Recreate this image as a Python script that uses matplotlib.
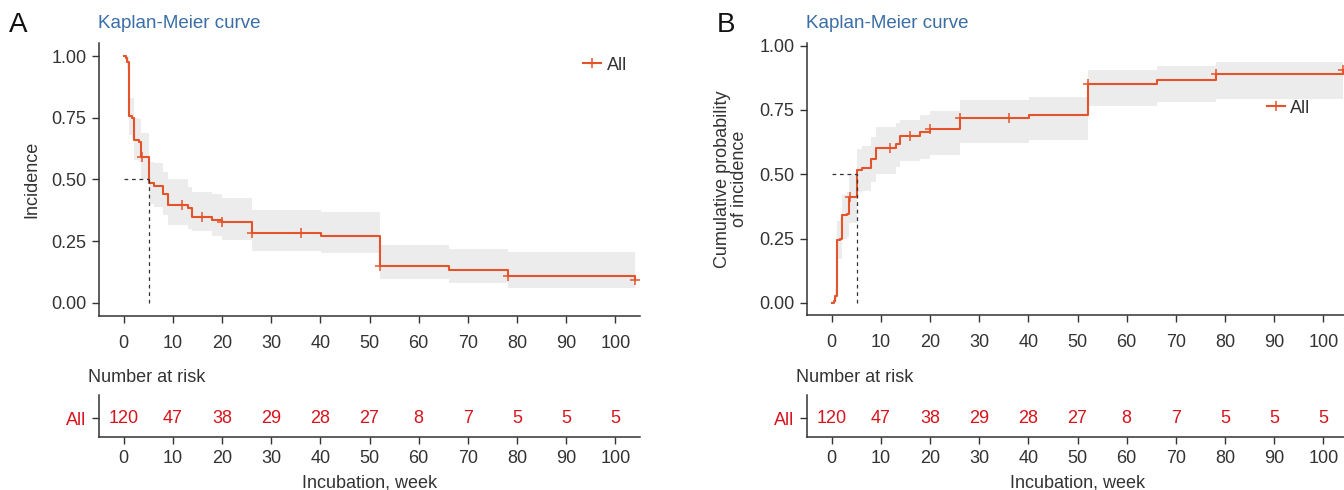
import numpy as np
import matplotlib
matplotlib.use("Agg")
import matplotlib.pyplot as plt
from matplotlib.lines import Line2D

plt.rcParams['font.family'] = ['Liberation Sans', 'DejaVu Sans']

# Kaplan-Meier steps
times = [0, 0.4, 0.75, 1.1, 1.8, 2.1, 3.1, 3.6, 5.1, 6.1, 8.0, 9.1, 13.1, 14.0,
         18.0, 20.0, 26.1, 40.1, 52.1, 66.1, 78.2, 104.0]
surv = [1.0, 0.992, 0.975, 0.757, 0.75, 0.66, 0.653, 0.59, 0.485, 0.475, 0.441,
        0.397, 0.383, 0.35, 0.336, 0.326, 0.282, 0.271, 0.15, 0.134, 0.111, 0.093]
lower = [1.0, 0.976, 0.945, 0.68, 0.67, 0.58, 0.57, 0.50, 0.40, 0.39, 0.355,
         0.315, 0.30, 0.29, 0.27, 0.255, 0.212, 0.201, 0.096, 0.08, 0.062, 0.062]
upper = [1.0, 1.0, 1.0, 0.83, 0.83, 0.75, 0.745, 0.69, 0.57, 0.565, 0.53,
         0.50, 0.47, 0.45, 0.44, 0.424, 0.377, 0.367, 0.235, 0.219, 0.208, 0.208]
censor_t = [3.8, 11.9, 16.0, 20.0, 26.1, 36.1, 52.1, 78.2, 104.0]

risk_t = [0, 10, 20, 30, 40, 50, 60, 70, 80, 90, 100]
at_risk = [120, 47, 38, 29, 28, 27, 8, 7, 5, 5, 5]

line_col = '#e4532a'
band_col = '#ececec'
red = '#d7141c'
txt = '#333333'
blue = '#3a6ea5'

times = np.array(times)
surv = np.array(surv)
lower = np.array(lower)
upper = np.array(upper)
idx = np.searchsorted(times, censor_t, side='right') - 1
median_t = times[np.argmax(surv <= 0.5)]

fig = plt.figure(figsize=(13.44, 4.9), dpi=100)
W, H = 1344, 490


def style(ax):
    for s in ['top', 'right']:
        ax.spines[s].set_visible(False)
    for s in ['left', 'bottom']:
        ax.spines[s].set_color(txt)
        ax.spines[s].set_linewidth(1.1)
    ax.tick_params(direction='out', length=5, width=1, color=txt,
                   labelcolor=txt, labelsize=13, pad=4)


panels = [
    dict(x0=99, top=43, bot=316, ylim=(-0.053, 1.053), cum=False,
         letter='A', ylabel='Incidence', leg=(0.895, 0.919)),
    dict(x0=807, top=43, bot=315, ylim=(-0.047, 1.01), cum=True,
         letter='B', ylabel='Cumulative probability\nof incidence', leg=(0.85, 0.761)),
]

for p in panels:
    ax = fig.add_axes([p['x0'] / W, 1 - p['bot'] / H, 541 / W, (p['bot'] - p['top']) / H])
    if p['cum']:
        y, lo, hi = 1 - surv, 1 - upper, 1 - lower
    else:
        y, lo, hi = surv, lower, upper
    ax.fill_between(times, lo, hi, step='post', color=band_col, lw=0)
    ax.step(times, y, where='post', color=line_col, lw=1.5)
    ax.plot(censor_t, y[idx], '+', color=line_col, ms=6.5, mew=1.1)
    ax.plot([0, median_t], [0.5, 0.5], ls=(0, (3, 3)), color=txt, lw=0.9)
    ax.plot([median_t, median_t], [0, 0.5], ls=(0, (3, 3)), color=txt, lw=0.9)
    ax.set_xlim(-5, 105)
    ax.set_ylim(*p['ylim'])
    ax.set_xticks(risk_t)
    ax.set_yticks([0, 0.25, 0.5, 0.75, 1.0])
    ax.set_yticklabels(['0.00', '0.25', '0.50', '0.75', '1.00'])
    style(ax)
    ax.tick_params(axis='x', pad=9)
    ax.set_ylabel(p['ylabel'], fontsize=13, color=txt, labelpad=8, linespacing=1.0)
    h = Line2D([], [], color=line_col, lw=1.5, marker='+', ms=6.5, mew=1.1)
    ax.legend([h], ['All'], loc='center left', bbox_to_anchor=p['leg'],
              frameon=False, fontsize=13, handlelength=1.0, handletextpad=0.3,
              borderpad=0, borderaxespad=0, labelcolor=txt)

    fig.text(p['x0'] / W - 0.0005, 1 - 23 / H, 'Kaplan-Meier curve', color=blue,
             fontsize=13.5, ha='left', va='center')
    fig.text((p['x0'] - 90) / W, 1 - 25 / H, p['letter'], color='#111111',
             fontsize=20, ha='left', va='center')
    fig.text((p['x0'] - 11) / W, 1 - 377 / H, 'Number at risk', color=txt,
             fontsize=13, ha='left', va='center')

    tb = fig.add_axes([p['x0'] / W, 1 - 437 / H, 541 / W, 42 / H])
    tb.set_xlim(-5, 105)
    tb.set_ylim(0, 1)
    for t, n in zip(risk_t, at_risk):
        tb.text(t, 0.45, str(n), color=red, fontsize=13, ha='center', va='center')
    tb.set_xticks(risk_t)
    tb.set_yticks([0.45])
    tb.set_yticklabels(['All'])
    style(tb)
    tb.tick_params(axis='y', labelcolor=red)
    tb.set_xlabel('Incubation, week', fontsize=13, color=txt, labelpad=6)

fig.savefig('out.png', dpi=100)
